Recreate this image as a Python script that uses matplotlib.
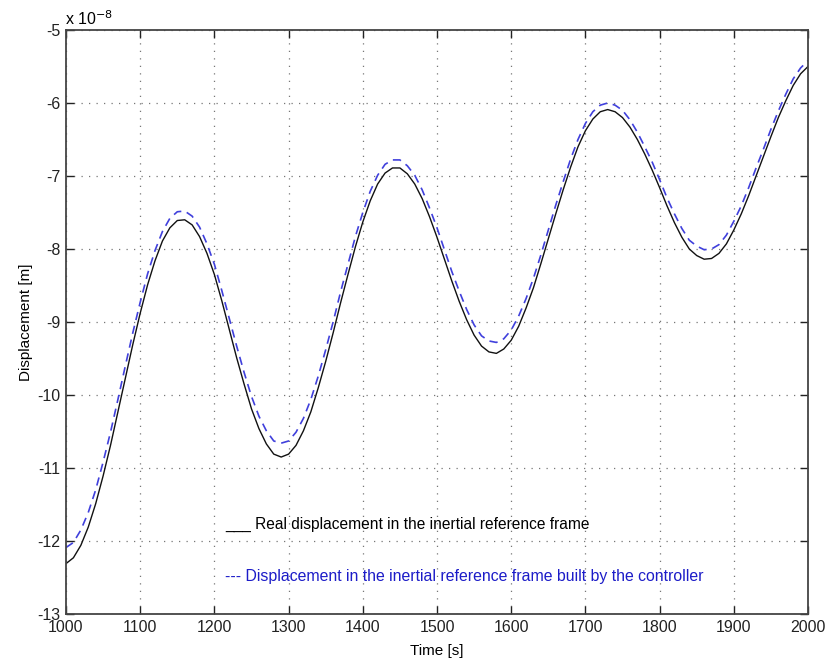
import matplotlib
matplotlib.use("Agg")
import matplotlib.pyplot as plt

# time axis [s] and displacement in units of 1e-8 m
time = list(range(1000, 2001, 10))

real = [
    -12.31, -12.23, -12.06, -11.81, -11.49, -11.11, -10.69, -10.23, -9.77, -9.31,
    -8.88, -8.49, -8.16, -7.89, -7.71, -7.61, -7.60, -7.67, -7.83, -8.06,
    -8.35, -8.71, -9.10, -9.49, -9.85, -10.19, -10.46, -10.67, -10.81, -10.85,
    -10.81, -10.69, -10.49, -10.23, -9.90, -9.54, -9.15, -8.74, -8.35, -7.97,
    -7.63, -7.34, -7.11, -6.96, -6.89, -6.89, -6.97, -7.11, -7.31, -7.56,
    -7.84, -8.14, -8.44, -8.72, -8.97, -9.18, -9.33, -9.41, -9.43, -9.37,
    -9.25, -9.06, -8.81, -8.53, -8.20, -7.86, -7.52, -7.19, -6.88, -6.60,
    -6.38, -6.22, -6.12, -6.09, -6.12, -6.20, -6.33, -6.50, -6.70, -6.92,
    -7.16, -7.41, -7.64, -7.84, -8.00, -8.09, -8.14, -8.13, -8.06, -7.93,
    -7.74, -7.52, -7.27, -7.00, -6.73, -6.46, -6.20, -5.97, -5.76, -5.60,
    -5.50,
]

controller = [
    -12.09, -12.02, -11.85, -11.61, -11.30, -10.92, -10.51, -10.06, -9.60, -9.15,
    -8.73, -8.34, -8.02, -7.76, -7.58, -7.49, -7.48, -7.55, -7.70, -7.93,
    -8.21, -8.57, -8.95, -9.33, -9.69, -10.02, -10.29, -10.49, -10.63, -10.66,
    -10.63, -10.51, -10.32, -10.06, -9.74, -9.38, -9.00, -8.59, -8.21, -7.83,
    -7.50, -7.21, -6.99, -6.84, -6.78, -6.78, -6.86, -6.99, -7.19, -7.44,
    -7.71, -8.01, -8.31, -8.58, -8.83, -9.04, -9.19, -9.26, -9.28, -9.23,
    -9.11, -8.92, -8.68, -8.40, -8.08, -7.74, -7.40, -7.08, -6.77, -6.50,
    -6.28, -6.12, -6.03, -6.00, -6.03, -6.10, -6.23, -6.40, -6.60, -6.81,
    -7.05, -7.30, -7.52, -7.72, -7.88, -7.96, -8.01, -8.00, -7.94, -7.81,
    -7.62, -7.41, -7.16, -6.89, -6.63, -6.36, -6.11, -5.88, -5.67, -5.52,
    -5.42,
]

x_ticks = list(range(1000, 2001, 100))
y_ticks = [-13, -12, -11, -10, -9, -8, -7, -6, -5]

plt.rcParams["font.family"] = ["Liberation Sans", "DejaVu Sans"]
plt.rcParams["axes.unicode_minus"] = False

fig = plt.figure(figsize=(8.29, 6.59), dpi=100)
ax = fig.add_axes([0.0796, 0.0683, 0.8951, 0.8862])

ax.plot(time, real, color="#111111", lw=1.0)
ax.plot(time, controller, color="#4040dc", lw=1.2, dashes=(5, 3.5))

ax.set_xlim(1000, 2000)
ax.set_ylim(-13, -5)
ax.set_xticks(x_ticks)
ax.set_yticks(y_ticks)
ax.tick_params(direction="in", length=6, width=1, top=True, right=True,
               labelsize=11.5, colors="#222222", pad=4)
ax.grid(True, color="#777777", lw=0.9, dashes=(1, 5))
for s in ax.spines.values():
    s.set_linewidth(1.3)
    s.set_color("#444444")

ax.set_xlabel("Time [s]", fontsize=11, labelpad=7)
ax.set_ylabel("Displacement [m]", fontsize=11, labelpad=3)

fig.text(0.079, 0.962, r"x 10$^{-8}$", fontsize=11.5, ha="left", va="baseline")

ax.text(1214, -11.78, "___ Real displacement in the inertial reference frame",
        fontsize=11.2, color="black", va="center")
ax.text(1214, -12.49,
        "--- Displacement in the inertial reference frame built by the controller",
        fontsize=11.4, color="#1c1cc8", va="center")

fig.savefig("out.png", dpi=100)
